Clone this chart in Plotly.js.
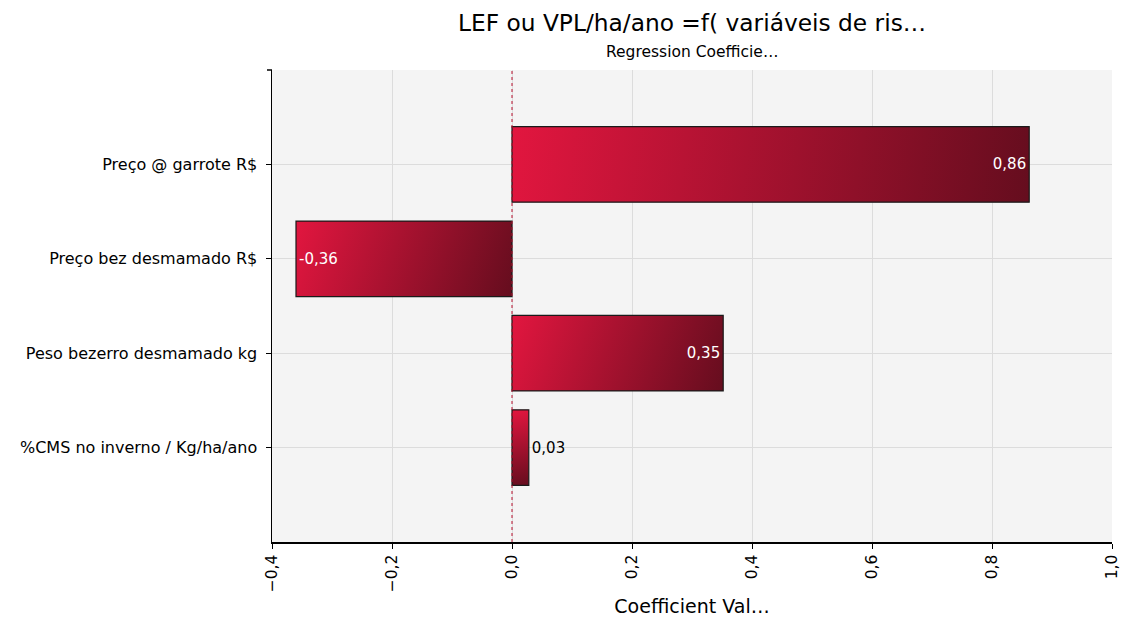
<!DOCTYPE html>
<html>
<head>
<meta charset="utf-8">
<script src="https://cdn.plot.ly/plotly-3.0.1.min.js"></script>
<style>html,body{margin:0;padding:0;background:#fff;}#chart{width:1123px;height:619px;}</style>
</head>
<body>
<div id="chart"></div>
<script>
// Data (bottom to top order on the axis)
const categories = ["%CMS no inverno / Kg/ha/ano", "Peso bezerro desmamado kg", "Preço bez desmamado R$", "Preço @ garrote R$"];
const coefficients = [0.028, 0.352, -0.36, 0.862];
const chartTitle = "LEF ou VPL/ha/ano =f( variáveis de ris…";
const chartSubtitle = "Regression Coefficie…";
const xAxisTitle = "Coefficient Val…";
const xTickValues = [-0.4, -0.2, 0, 0.2, 0.4, 0.6, 0.8, 1.0];

const FONT = "'DejaVu Sans', Verdana, sans-serif";

const trace = {
  type: 'bar',
  orientation: 'h',
  y: categories,
  x: coefficients,
  width: 0.8,
  marker: {color: '#B01030', line: {color: '#1a1a1a', width: 1.2}},
  texttemplate: '%{x:.2f}',
  textposition: 'auto',
  insidetextanchor: 'end',
  insidetextfont: {color: '#ffffff', size: 15, family: FONT},
  outsidetextfont: {color: '#000000', size: 15, family: FONT},
  cliponaxis: false,
  hoverinfo: 'none'
};

const layout = {
  width: 1123, height: 619,
  separators: ',.',
  paper_bgcolor: '#ffffff',
  plot_bgcolor: '#F4F4F4',
  font: {family: FONT, color: '#000', size: 15},
  margin: {l: 272, r: 11, t: 70, b: 77, pad: 0},
  showlegend: false,
  xaxis: {
    range: [-0.4, 1.0],
    tickvals: xTickValues,
    tickformat: '.1f',
    tickangle: -90,
    ticks: 'outside', ticklen: 5, tickcolor: '#000', tickwidth: 1,
    showline: true, linecolor: '#000', linewidth: 1.5,
    showgrid: true, gridcolor: '#DCDCDC', gridwidth: 1,
    zeroline: false,
    tickfont: {size: 15.5},
    title: {text: xAxisTitle, font: {size: 19}, standoff: 8}
  },
  yaxis: {
    type: 'category',
    categoryorder: 'array',
    categoryarray: categories,
    range: [-1, 4],
    ticks: 'outside', ticklen: 5, tickcolor: '#000', tickwidth: 1,
    showline: true, linecolor: '#000', linewidth: 1.5,
    showgrid: true, gridcolor: '#DCDCDC', gridwidth: 1,
    zeroline: false,
    tickfont: {size: 16},
    ticksuffix: ' '
  },
  shapes: [
    {type: 'line', xref: 'x', yref: 'paper', x0: 0, x1: 0, y0: 0, y1: 1,
     line: {color: '#B8102E', width: 1, dash: 'dot'}, layer: 'above'},
    {type: 'line', xref: 'paper', xsizemode: 'pixel', xanchor: 0, x0: -5, x1: 0,
     yref: 'paper', y0: 1, y1: 1, line: {color: '#000', width: 1.5}}
  ],
  annotations: [
    {text: chartTitle, xref: 'paper', yref: 'paper', x: 0.5, y: 1, yshift: 48,
     xanchor: 'center', yanchor: 'middle', showarrow: false, font: {size: 23.3}},
    {text: chartSubtitle, xref: 'paper', yref: 'paper', x: 0.5, y: 1, yshift: 18,
     xanchor: 'center', yanchor: 'middle', showarrow: false, font: {size: 15.5}}
  ]
};

Plotly.newPlot('chart', [trace], layout, {displayModeBar: false, staticPlot: true}).then(function (gd) {
  const svg = gd.querySelector('svg.main-svg');
  const ns = 'http://www.w3.org/2000/svg';
  let defs = svg.querySelector('defs');
  if (!defs) { defs = document.createElementNS(ns, 'defs'); svg.insertBefore(defs, svg.firstChild); }
  gd.querySelectorAll('.trace.bars .point path').forEach(function (p, i) {
    const bb = p.getBBox();
    const grad = document.createElementNS(ns, 'linearGradient');
    const id = 'barGrad' + i;
    grad.setAttribute('id', id);
    grad.setAttribute('gradientUnits', 'userSpaceOnUse');
    // diagonal vector from top-left to bottom-right corner of the bar
    const w = bb.width, h = bb.height;
    const cx = bb.x, cy = bb.y;
    grad.setAttribute('x1', cx); grad.setAttribute('y1', cy);
    grad.setAttribute('x2', cx + w); grad.setAttribute('y2', cy + h);
    [['0', '#E2163F'], ['1', '#650D1E']].forEach(function (s) {
      const st = document.createElementNS(ns, 'stop');
      st.setAttribute('offset', s[0]);
      st.setAttribute('stop-color', s[1]);
      grad.appendChild(st);
    });
    defs.appendChild(grad);
    p.style.fill = 'url(#' + id + ')';
  });
});
</script>
</body>
</html>
